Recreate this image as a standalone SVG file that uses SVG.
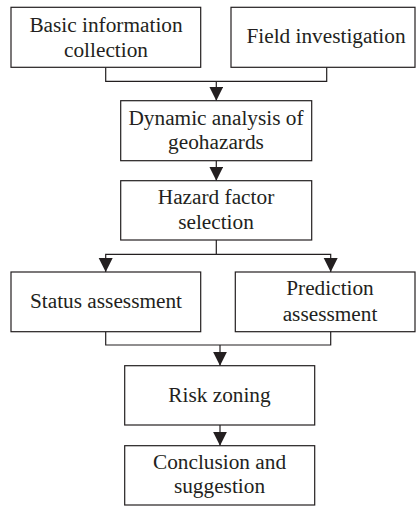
<svg xmlns="http://www.w3.org/2000/svg" width="416" height="506" viewBox="0 0 416 506">
<style>
.box{fill:#fff;stroke:#231f20;stroke-width:1.2}
.lbl{font-family:"Liberation Serif","Times New Roman",serif;font-size:21.3px;fill:#231f20;text-anchor:middle}
.con{fill:none;stroke:#231f20;stroke-width:1.2}
</style>
<defs>
<marker id="ah" markerUnits="userSpaceOnUse" markerWidth="15" markerHeight="15" refX="14" refY="7" orient="auto">
<path d="M0,0 L14,7 L0,14 Z" fill="#231f20"/>
</marker>
</defs>
<rect width="416" height="506" fill="#fff"/>
<g id="connectors">
<path class="con" d="M105.7,67.3 V81.3 H326.7 V67.3"/>
<path class="con" d="M216.3,81.3 V100.7" marker-end="url(#ah)"/>
<path class="con" d="M216.3,160.7 V180.7" marker-end="url(#ah)"/>
<path class="con" d="M216.3,240 V254.3 H105.7 V272" marker-end="url(#ah)"/>
<path class="con" d="M216.3,254.3 H330.7 V272" marker-end="url(#ah)"/>
<path class="con" d="M105.7,331.7 V345 H330.7 V331.7"/>
<path class="con" d="M220,345 V365.7" marker-end="url(#ah)"/>
<path class="con" d="M220,425 V445.7" marker-end="url(#ah)"/>
</g>
<g id="basic">
<rect class="box" x="11" y="7.3" width="189.7" height="60"/>
<text class="lbl" x="106" y="31.7">Basic information</text>
<text class="lbl" x="106" y="57">collection</text>
</g>
<g id="field">
<rect class="box" x="231" y="7.3" width="184" height="60"/>
<text class="lbl" x="326" y="43.3">Field investigation</text>
</g>
<g id="dynamic">
<rect class="box" x="120.7" y="100.7" width="191" height="60"/>
<text class="lbl" x="216" y="124.5">Dynamic analysis of</text>
<text class="lbl" x="216" y="149.3">geohazards</text>
</g>
<g id="hazard">
<rect class="box" x="120.7" y="180.7" width="191" height="59.3"/>
<text class="lbl" x="216" y="204.3">Hazard factor</text>
<text class="lbl" x="216" y="229.3">selection</text>
</g>
<g id="status">
<rect class="box" x="11" y="272" width="189.7" height="59.7"/>
<text class="lbl" x="106" y="307.7">Status assessment</text>
</g>
<g id="prediction">
<rect class="box" x="235.3" y="272" width="179.7" height="59.7"/>
<text class="lbl" x="330" y="295.3">Prediction</text>
<text class="lbl" x="330" y="320.7">assessment</text>
</g>
<g id="risk">
<rect class="box" x="124.7" y="365.7" width="190" height="59.3"/>
<text class="lbl" x="219.5" y="401.7">Risk zoning</text>
</g>
<g id="conclusion">
<rect class="box" x="124.7" y="445.7" width="190" height="59.3"/>
<text class="lbl" x="219.5" y="468.5">Conclusion and</text>
<text class="lbl" x="219.5" y="493.3">suggestion</text>
</g>
</svg>
